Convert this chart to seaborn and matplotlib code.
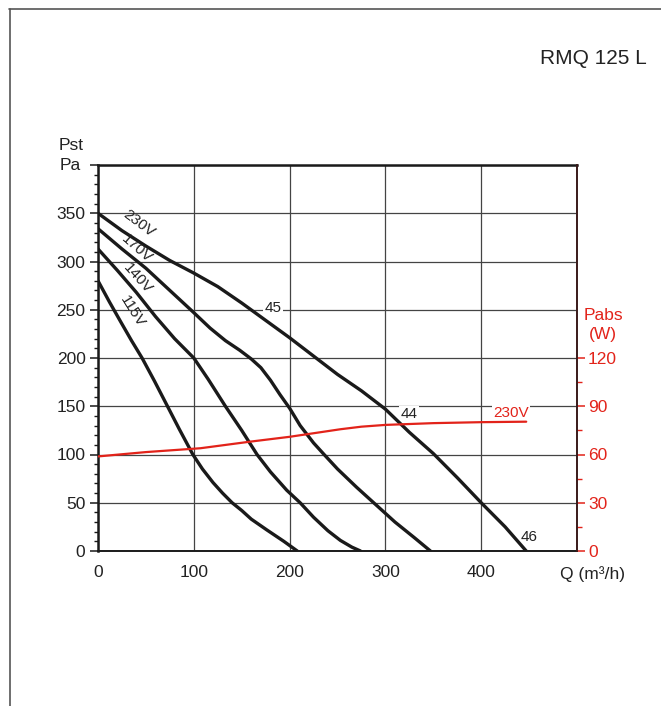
import matplotlib
matplotlib.use("Agg")
import matplotlib.pyplot as plt
from matplotlib.lines import Line2D
from matplotlib.ticker import MultipleLocator, FixedLocator
import seaborn as sns

# ---- data ----
q_230 = [0, 25, 50, 75, 100, 125, 150, 175, 200, 225, 250, 275, 300, 325, 350, 375, 400, 425, 447]
p_230 = [350, 332, 316, 301, 288, 274, 257, 239, 221, 202, 183, 166, 147, 123, 101, 76, 50, 25, 0]

q_170 = [0, 25, 50, 75, 100, 117, 133, 148, 160, 170, 180, 190, 200, 211, 225, 236, 250, 270, 290, 310, 330, 347]
p_170 = [334, 313, 293, 270, 247, 231, 218, 208, 199, 190, 177, 162, 148, 130, 112, 100, 85, 66, 48, 30, 14, 0]

q_140 = [0, 20, 40, 60, 80, 100, 115, 133, 150, 166, 180, 197, 211, 225, 240, 253, 265, 274]
p_140 = [313, 291, 268, 243, 220, 200, 178, 150, 125, 100, 82, 63, 50, 35, 21, 11, 4, 0]

q_115 = [0, 12, 24, 35, 46, 59, 72, 85, 99, 109, 120, 130, 140, 150, 160, 176, 194, 208]
p_115 = [280, 258, 237, 218, 200, 176, 151, 126, 100, 85, 71, 60, 50, 42, 33, 22, 10, 0]

q_pabs = [0, 50, 107, 159, 200, 253, 275, 300, 350, 400, 447]
w_pabs = [58.8, 61.5, 63.9, 68.0, 71.0, 75.7, 77.3, 78.4, 79.5, 80.1, 80.4]

x_ticks = [0, 100, 200, 300, 400, 500]
x_tick_labels = ["0", "100", "200", "300", "400", ""]
y_ticks = [0, 50, 100, 150, 200, 250, 300, 350, 400]
y_tick_labels = ["0", "50", "100", "150", "200", "250", "300", "350", ""]
w_ticks = [0, 30, 60, 90, 120]
w_tick_labels = ["0", "30", "60", "90", "120"]

# ---- style ----
sns.set_style("white")
plt.rcParams["font.family"] = ["Liberation Sans", "DejaVu Sans"]
RED = "#e2231a"
DARK = "#1a1a1a"

W, H = 661, 706
fig = plt.figure(figsize=(W / 100, H / 100), dpi=100)
ax = fig.add_axes([98 / W, 1 - 551 / H, (577 - 98) / W, (551 - 165) / H])

curves = [(q_230, p_230), (q_170, p_170), (q_140, p_140), (q_115, p_115)]
for qs, ps in curves:
    sns.lineplot(x=qs, y=ps, ax=ax, color=DARK, lw=2.4, sort=False,
                 estimator=None, zorder=5)

ax.set_xlim(0, 500)
ax.set_ylim(0, 400)
ax.set_xticks(x_ticks)
ax.set_xticklabels(x_tick_labels)
ax.set_yticks(y_ticks)
ax.set_yticklabels(y_tick_labels)
ax.xaxis.set_minor_locator(MultipleLocator(20))
ax.yaxis.set_minor_locator(MultipleLocator(10))
ax.grid(True, which="major", color="#444444", lw=0.9, zorder=0)
ax.set_axisbelow(True)
ax.tick_params(axis="both", which="major", direction="out", length=6, width=1.1,
               color=DARK, labelsize=12.5, labelcolor="#222222")
ax.tick_params(axis="both", which="minor", direction="out", length=3, width=1.0, color=DARK)
ax.tick_params(axis="y", which="major", pad=3)
ax.tick_params(axis="x", which="major", pad=6, length=4)
ax.tick_params(axis="x", which="minor", length=4)
for s in ["left", "top"]:
    ax.spines[s].set_linewidth(1.8)
    ax.spines[s].set_color(DARK)
ax.spines["bottom"].set_linewidth(1.4)
ax.spines["bottom"].set_color(DARK)
ax.spines["right"].set_visible(False)
ax.set_xlabel("")
ax.set_ylabel("")

# ---- right axis (absorbed power) ----
ax2 = ax.twinx()
sns.lineplot(x=q_pabs, y=w_pabs, ax=ax2, color=RED, lw=1.6, sort=False,
             estimator=None, zorder=6)
ax2.set_ylim(0, 240)
ax2.yaxis.set_major_locator(FixedLocator(w_ticks))
ax2.set_yticklabels(w_tick_labels)
ax2.yaxis.set_minor_locator(FixedLocator([15, 45, 75, 105]))
ax2.tick_params(axis="y", which="major", direction="out", length=6, width=1.1,
                color=RED, labelcolor=RED, labelsize=12.5, pad=2)
ax2.tick_params(axis="y", which="minor", direction="out", length=3.5, width=1.0, color=RED)
for s in ["left", "top", "bottom"]:
    ax2.spines[s].set_visible(False)
ax2.spines["right"].set_color("#3a1a1a")
ax2.spines["right"].set_linewidth(1.4)
ax2.set_ylabel("")
ax2.set_xlabel("")

# ---- curve labels ----
lbl = dict(fontsize=11, color="#222222", ha="center", va="center", zorder=7)
ax.text(43, 339, "230V", rotation=-37, **lbl)
ax.text(41, 313, "170V", rotation=-41, **lbl)
ax.text(41, 282, "140V", rotation=-48, **lbl)
ax.text(35.5, 248, "115V", rotation=-58, **lbl)

box = dict(facecolor="white", edgecolor="none", pad=1.0)
ax.text(183, 252, "45", fontsize=11, color="#222222", ha="center", va="center",
        bbox=box, zorder=3)
ax.text(325, 142, "44", fontsize=11, color="#222222", ha="center", va="center",
        bbox=box, zorder=3)
ax.text(431, 143.5, "230V", fontsize=11, color=RED, ha="center", va="center",
        bbox=box, zorder=3)
ax.text(450, 14.5, "46", fontsize=11, color="#222222", ha="center", va="center", zorder=3)

# ---- figure texts ----
fig.text(593 / W, 1 - 58 / H, "RMQ 125 L", fontsize=15, color="#222222",
         ha="center", va="center")
fig.text(71 / W, 1 - 146 / H, "Pst", fontsize=12.5, color="#222222", ha="center", va="center")
fig.text(70 / W, 1 - 165 / H, "Pa", fontsize=12.5, color="#222222", ha="center", va="center")
fig.text(603 / W, 1 - 315 / H, "Pabs", fontsize=12.5, color=RED, ha="center", va="center")
fig.text(603 / W, 1 - 335 / H, "(W)", fontsize=12.5, color=RED, ha="center", va="center")
fig.text(592 / W, 1 - 574 / H, "Q (m³/h)", fontsize=12.5, color="#222222",
         ha="center", va="center")

# ---- outer frame (top and left border) ----
fig.add_artist(Line2D([9 / W, 1.0], [1 - 8.5 / H, 1 - 8.5 / H], color="#555555", lw=1.2))
fig.add_artist(Line2D([9.5 / W, 9.5 / W], [0.0, 1 - 8.5 / H], color="#555555", lw=1.2))

fig.savefig("out.png", dpi=100)
